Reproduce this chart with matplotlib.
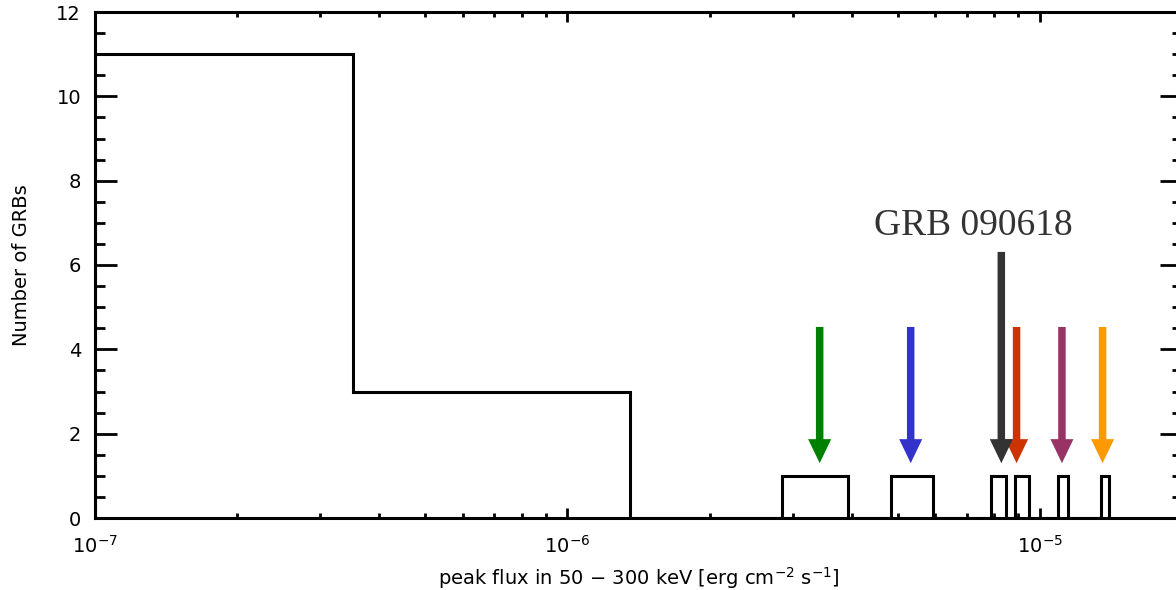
import matplotlib
matplotlib.use("Agg")
import matplotlib.pyplot as plt
from matplotlib.ticker import FixedLocator, MultipleLocator, NullFormatter

# Histogram bin edges and counts (peak flux, erg cm^-2 s^-1)
bin_edges = [1.0e-7, 3.52e-7, 1.36e-6, 2.85e-6, 3.92e-6, 4.85e-6, 5.93e-6,
             7.87e-6, 8.47e-6, 8.85e-6, 9.49e-6, 1.092e-5, 1.146e-5,
             1.345e-5, 1.40e-5]
counts = [11, 3, 0, 1, 0, 1, 0, 1, 0, 1, 0, 1, 0, 1]

# Arrows marking individual GRBs
arrow_flux = [3.42e-6, 5.33e-6, 8.93e-6, 1.114e-5, 1.358e-5, 8.29e-6]
arrow_top = [4.53, 4.53, 4.53, 4.53, 4.53, 6.31]
arrow_tip = 1.30
arrow_colors = ["#008000", "#3333CC", "#CC3300", "#993366", "#FF9900", "#333333"]
label_text = "GRB 090618"
label_flux = 7.24e-6
label_y = 6.71

x_ticks = [1e-7, 1e-6, 1e-5]
x_ticklabels = [r"$10^{-7}$", r"$10^{-6}$", r"$10^{-5}$"]
y_ticks = [0, 2, 4, 6, 8, 10, 12]

W, H = 1176, 590
fig = plt.figure(figsize=(W / 100, H / 100), dpi=100)
left, right, top, bottom = 95, 1182, 12, 518
ax = fig.add_axes([left / W, (H - bottom) / H, (right - left) / W, (bottom - top) / H])

ax.stairs(counts, bin_edges, color="black", lw=2.2, baseline=0, zorder=3)

for xf, yt, c in zip(arrow_flux, arrow_top, arrow_colors):
    ax.annotate("", xy=(xf, arrow_tip), xytext=(xf, yt),
                arrowprops=dict(arrowstyle="simple,head_length=1.73,head_width=1.66,tail_width=0.54",
                                color=c, shrinkA=0, shrinkB=0, mutation_scale=10, lw=0),
                zorder=4)

ax.text(label_flux, label_y, label_text, ha="center", va="baseline",
        fontsize=27, family="Liberation Serif", color="#333333")

ax.set_xscale("log")
ax.set_xlim(1e-7, 2e-5)
ax.set_ylim(0, 12)

ax.xaxis.set_major_locator(FixedLocator(x_ticks))
ax.set_xticklabels(x_ticklabels)
ax.xaxis.set_minor_formatter(NullFormatter())
ax.yaxis.set_major_locator(FixedLocator(y_ticks))
ax.yaxis.set_minor_locator(MultipleLocator(0.5))

for s in ax.spines.values():
    s.set_linewidth(2.2)

ax.tick_params(axis="both", which="both", direction="in", top=True, right=True,
               width=2.0, labelsize=14)
ax.tick_params(axis="y", which="major", length=16, pad=10)
ax.tick_params(axis="y", which="minor", length=7.5)
ax.tick_params(axis="x", which="major", length=7.5, pad=12)
ax.tick_params(axis="x", which="minor", length=3.5)

ax.set_xlabel("peak flux in 50 \u2212 300 keV [erg cm$^{-2}$ s$^{-1}$]", fontsize=14, labelpad=6)
ax.set_ylabel("Number of GRBs", fontsize=14, labelpad=18)

fig.savefig("out.png", dpi=100)
